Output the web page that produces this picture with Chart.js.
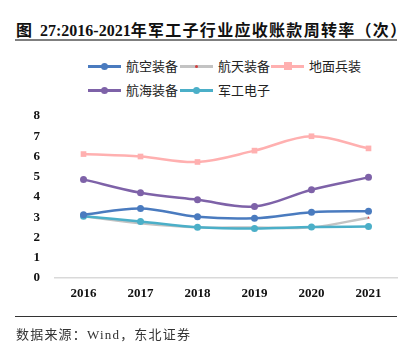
<!DOCTYPE html>
<html>
<head>
<meta charset="utf-8">
<script src="https://cdn.jsdelivr.net/npm/chart.js@4/dist/chart.umd.min.js"></script>
<style>
  html, body { margin: 0; padding: 0; background: #fff; }
  #wrap { position: relative; width: 404px; height: 350px; overflow: hidden; }
  #title { position: absolute; left: 16px; top: 17px; font: bold 16px "Liberation Serif", "Noto Sans CJK SC", serif; color: #111; white-space: nowrap; }
  #title .cn { font-weight: 600; letter-spacing: 1.3px; }
  #rule-top { position: absolute; left: 15px; top: 39px; width: 382px; height: 2px; background: #7f7f7f; }
  #rule-bot { position: absolute; left: 15px; top: 316px; width: 382px; height: 1px; background: #333; }
  #source { position: absolute; left: 16px; top: 324px; font: 13px "Liberation Serif", "Noto Sans CJK SC", serif; color: #333; white-space: nowrap; letter-spacing: 1.2px; }
  #legend { position: absolute; left: 0; top: 0; width: 404px; height: 100px; font: 13px "Noto Sans CJK SC", sans-serif; color: #222; }
  .lg { position: absolute; height: 16px; white-space: nowrap; }
  .lg .ln { position: absolute; top: 7px; height: 3px; width: 33px; left: 0; }
  .lg .mk { position: absolute; left: 13px; top: 5px; width: 7px; height: 7px; border-radius: 50%; }
  .lg span.tx { position: absolute; left: 38px; top: -2px; }
  canvas { position: absolute; left: 0; top: 0; }
</style>
</head>
<body>
<div id="wrap">
  <div id="title">图&nbsp; 27:2016-2021<span class="cn">年军工子行业应收账款周转率（次）</span></div>
  <div id="rule-top"></div>
  <div id="legend"></div>
  <canvas id="c" width="404" height="350"></canvas>
  <div id="rule-bot"></div>
  <div id="source">数据来源：Wind，东北证券</div>
</div>
<script>
const years = ['2016', '2017', '2018', '2019', '2020', '2021'];
const seriesNames = ['航空装备', '航天装备', '地面兵装', '航海装备', '军工电子'];
const aviation = [3.12, 3.43, 3.02, 2.95, 3.25, 3.3];
const aerospace = [3.05, 2.7, 2.5, 2.5, 2.5, 2.98];
const groundArms = [6.12, 6.0, 5.73, 6.29, 7.0, 6.4];
const naval = [4.87, 4.21, 3.86, 3.53, 4.36, 4.97];
const electronics = [3.05, 2.79, 2.51, 2.44, 2.52, 2.54];
const yTicks = [0, 1, 2, 3, 4, 5, 6, 7, 8];

const colors = ['#4a7bbf', '#c3c3c3', '#ffb0b0', '#7e62a8', '#4bafc8'];
const values = [aviation, aerospace, groundArms, naval, electronics];
const drawOrder = [0, 4, 2, 1, 3];

/* legend: two rows, left-aligned columns like the original */
const legPos = [[88, 58], [180, 58], [271, 58], [88, 82], [180, 82]];
const legend = document.getElementById('legend');
seriesNames.forEach((name, i) => {
  const d = document.createElement('div');
  d.className = 'lg';
  d.style.left = legPos[i][0] + 'px';
  d.style.top = legPos[i][1] + 'px';
  let mk;
  if (i === 1) mk = '<div class="mk" style="background:#d04040;width:3px;height:3px;left:15px;top:7px"></div>';
  else if (i === 2) mk = '<div class="mk" style="background:' + colors[i] + ';border-radius:0;width:8px;height:8px;top:4px"></div>';
  else mk = '<div class="mk" style="background:' + colors[i] + '"></div>';
  d.innerHTML = '<div class="ln" style="background:' + colors[i] + '"></div>' + mk + '<span class="tx">' + name + '</span>';
  legend.appendChild(d);
});

const datasets = seriesNames.map((name, i) => ({
  label: name,
  data: values[i],
  borderColor: colors[i],
  backgroundColor: i === 1 ? '#d04040' : colors[i],
  borderWidth: 2.5,
  tension: 0.35,
  pointStyle: i === 2 ? 'rect' : (i === 1 ? 'triangle' : 'circle'),
  pointRadius: i === 1 ? 1.5 : (i === 2 ? 4 : 3.5),
  pointBorderWidth: 0,
  order: drawOrder[i]
}));

new Chart(document.getElementById('c'), {
  type: 'line',
  data: { labels: years, datasets },
  options: {
    responsive: false,
    animation: false,
    layout: { padding: { top: 116, left: 0, right: 7, bottom: 42 } },
    plugins: { legend: { display: false }, tooltip: { enabled: false } },
    scales: {
      x: {
        offset: true,
        grid: { display: false, drawTicks: false },
        border: { display: true, color: '#d9d9d9', width: 1.5 },
        ticks: { padding: 8, color: '#111', font: { family: 'Liberation Serif', weight: 'bold', size: 13 } },
        afterFit: s => { s.height = 30; }
      },
      y: {
        min: 0, max: 8,
        afterBuildTicks: s => { s.ticks = yTicks.map(v => ({ value: v })); },
        grid: { display: false, drawTicks: false },
        border: { display: false },
        ticks: { padding: 15, color: '#111', font: { family: 'Liberation Serif', weight: 'bold', size: 13 } },
        afterFit: s => { s.width = 55; }
      }
    }
  }
});
</script>
</body>
</html>
